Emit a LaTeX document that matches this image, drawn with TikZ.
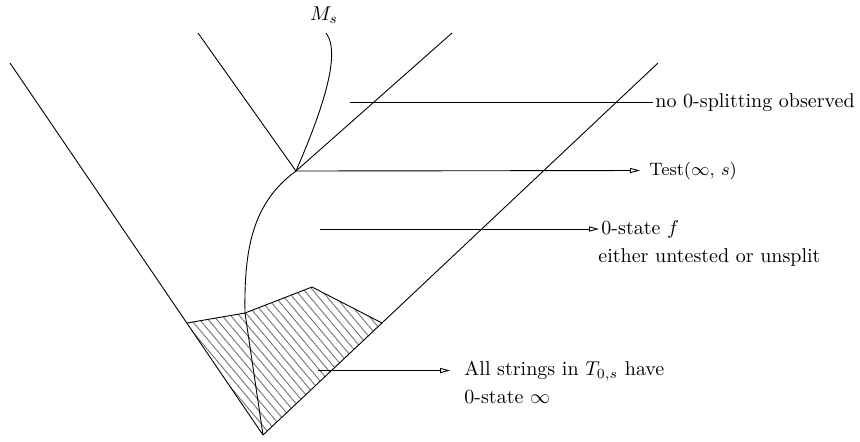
\documentclass[tikz,border=0pt]{standalone}
\usetikzlibrary{arrows.meta,patterns.meta}
\begin{document}
\begin{tikzpicture}[x=0.5pt,y=-0.5pt, line width=0.45pt, line join=round,
  arr/.style={-{Triangle[open,length=5pt,width=2.6pt,line width=0.45pt]}},
  lbl/.style={inner sep=0pt, anchor=base west},
  hatch/.style={pattern={Lines[angle=-50,distance=3.3pt,line width=0.45pt]}, pattern color=black!55}]
\useasboundingbox (0,0) rectangle (860,441);
% key points
\coordinate (apex) at (263,435);
\coordinate (otl) at (10,63);
\coordinate (otr) at (658,63);
\coordinate (iapex) at (296,171);
\coordinate (itl) at (198,33);
\coordinate (itr) at (452,33);
\coordinate (mtop) at (326,33);
\coordinate (cbot) at (245,313);
\coordinate (hl) at (187,323);
\coordinate (ht) at (312,287);
\coordinate (hr) at (382,323);
% hatched regions
\fill[hatch] (hl) -- (cbot) -- (apex) -- cycle;
\fill[hatch] (cbot) -- (ht) -- (hr) -- (apex) -- cycle;
\draw (hl) -- (cbot) -- (ht) -- (hr);
\draw (cbot) -- (apex);
% outer cone
\draw (otl) -- (apex) -- (otr);
% inner cone
\draw (itl) -- (iapex) -- (itr);
% M_s curve
\draw (iapex) .. controls (318,120) and (343,55) .. (mtop);
\node (ms) at (324,15) {$M_s$};
% curve down to hatched region
\draw (iapex) .. controls (252,203) and (244,250) .. (cbot);
% labels and lines
\coordinate (l1s) at (350,102.7);
\node[anchor=west, inner sep=1pt] (t1) at (653,102.7) {no 0-splitting observed};
\draw (l1s) -- (t1.west);
\coordinate (l2e) at (640,170.5);
\draw[arr] (iapex) -- (l2e);
\node[anchor=west, inner sep=0pt, font=\small] (t2) at (649,170.5) {Test$(\infty$, $s)$};
\coordinate (l3s) at (320,229);
\coordinate (l3e) at (599,229);
\draw[arr] (l3s) -- (l3e);
\node[lbl] (t3a) at (601,234) {0-state $f$};
\node[lbl] (t3b) at (598,262) {either untested or unsplit};
\coordinate (l4s) at (318,370.5);
\coordinate (l4e) at (450,370.5);
\draw[arr] (l4s) -- (l4e);
\node[lbl] (t4a) at (464,375.5) {All strings in $T_{0,s}$ have};
\node[lbl] (t4b) at (464,403) {0-state $\infty$};
\end{tikzpicture}
\end{document}
